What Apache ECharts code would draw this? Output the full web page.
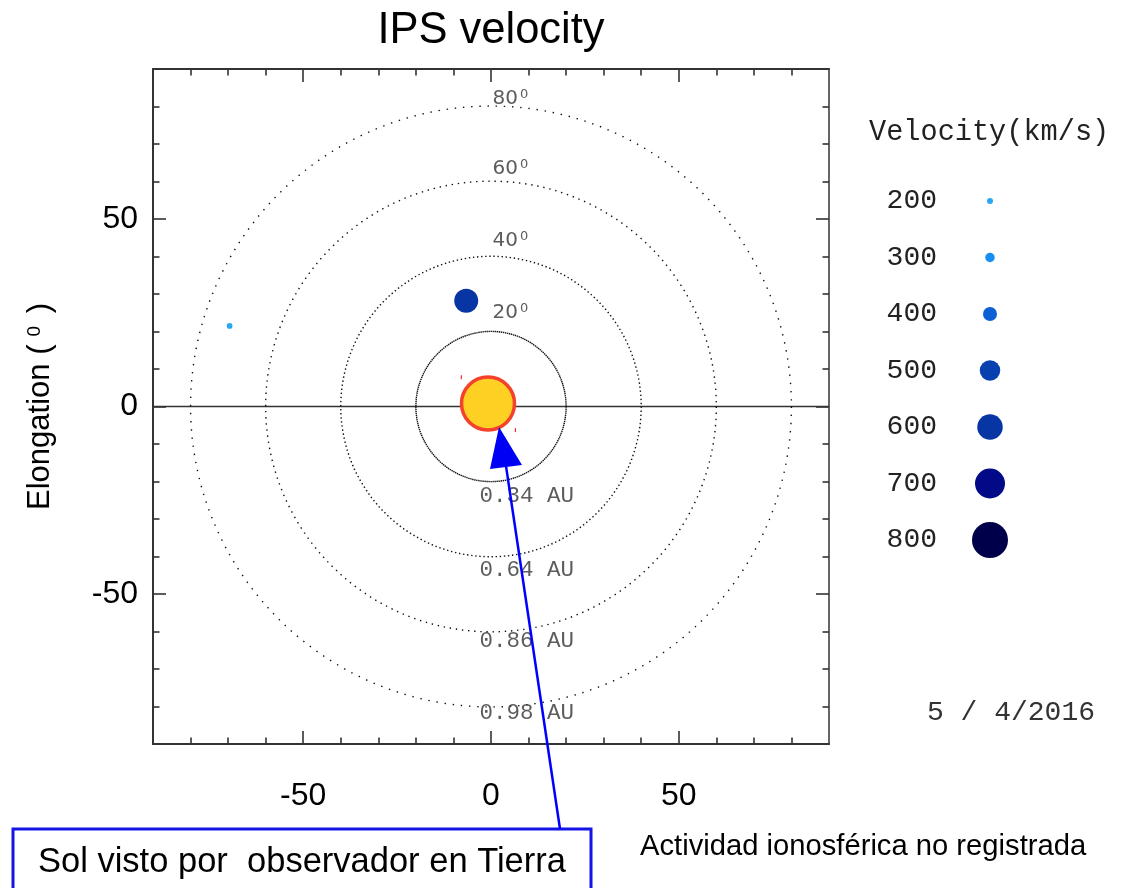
<!DOCTYPE html>
<html><head><meta charset="utf-8">
<script src="https://cdn.jsdelivr.net/npm/echarts@6/dist/echarts.min.js"></script>
<style>html,body{margin:0;padding:0;background:#fff}#c{width:1122px;height:888px}</style>
</head><body><div id="c"></div>
<script>
// ---- data ----
const elongRings = [20, 40, 60, 80];
const ringDegLabels = ['20', '40', '60', '80'];
const ringAuLabels = ['0.34 AU', '0.64 AU', '0.86 AU', '0.98 AU'];
const obsX = [-69.6, -6.6];
const obsY = [21.5, 28.2];
const obsVel = [190, 570];
const legendVel = [200, 300, 400, 500, 600, 700, 800];
const sunPos = [-0.8, 0.8];
const redMarkX = [-7.9, 6.5];
const redMarkY = [7.8, -6.3];
const minorTicks = [-80, -70, -60, -40, -30, -20, -10, 10, 20, 30, 40, 60, 70, 80];
const majorTicks = [-50, 0, 50];
const dateLabel = '5 / 4/2016';

// ---- styles ----
const legendColors = ['#2aa6f7', '#168ef2', '#0a60d4', '#0840b0', '#0736a4', '#020a88', '#00004a'];
const legendSizes = [6, 9.5, 14, 20.5, 25.5, 30, 36];
const degLift = [19, 16, 13, 8];
const auDrop = [15, 14, 9.5, 7];

function velSize(v) {
  if (v <= legendVel[0]) return legendSizes[0] * v / legendVel[0];
  for (let i = 1; i < legendVel.length; i++) {
    if (v <= legendVel[i]) {
      const t = (v - legendVel[i - 1]) / (legendVel[i] - legendVel[i - 1]);
      return legendSizes[i - 1] + t * (legendSizes[i] - legendSizes[i - 1]);
    }
  }
  return legendSizes[legendSizes.length - 1];
}
function velColor(v) {
  let idx = 0;
  for (let i = 0; i < legendVel.length; i++) if (Math.abs(v - legendVel[i]) < Math.abs(v - legendVel[idx])) idx = i;
  return legendColors[idx];
}

const MONO = 'Liberation Mono';
const SANS = 'Liberation Sans';

function xAx(pos, major) {
  return {
    type: 'value', gridIndex: 0, min: -90, max: 90, interval: 10, position: pos,
    axisLine: { show: !major, onZero: false, lineStyle: { color: '#333', width: 2 } },
    axisTick: { show: true, inside: true, length: major ? 13 : 6.5, customValues: major ? majorTicks : minorTicks, lineStyle: { color: '#333', width: 1.6 } },
    axisLabel: (pos === 'bottom' && !major) ? { customValues: majorTicks, margin: 36, fontSize: 32, fontFamily: SANS, color: '#000' } : { show: false },
    splitLine: { show: false }
  };
}
function yAx(pos, major) {
  const a = {
    type: 'value', gridIndex: 0, min: -90, max: 90, interval: 10, position: pos,
    axisLine: { show: !major, onZero: false, lineStyle: { color: pos === 'right' ? '#666' : '#333', width: 2 } },
    axisTick: { show: true, inside: true, length: major ? 13 : 6.5, customValues: major ? majorTicks : minorTicks, lineStyle: { color: '#333', width: 1.6 } },
    axisLabel: (pos === 'left' && !major) ? { customValues: majorTicks, margin: 15, fontSize: 32, fontFamily: SANS, color: '#000' } : { show: false },
    splitLine: { show: false }
  };
  if (pos === 'left' && !major) {
    a.name = '{t|Elongation (}{s|0}{t| )}';
    a.nameLocation = 'middle';
    a.nameRotate = 90;
    a.nameGap = 97;
    a.nameTextStyle = {
      rich: {
        t: { fontSize: 31, fontFamily: SANS, color: '#000' },
        s: { fontSize: 19, fontFamily: SANS, color: '#000', verticalAlign: 'top', padding: [0, 4, 0, 8] }
      }
    };
  }
  return a;
}

const chart = echarts.init(document.getElementById('c'), null, { renderer: 'canvas' });
chart.setOption({
  backgroundColor: '#fff',
  animation: false,
  grid: [
    { left: 153, right: 293, top: 69, bottom: 144, containLabel: false },
    { left: 945, top: 172.75, width: 90, height: 395.5, containLabel: false }
  ],
  xAxis: [
    xAx('bottom', false), xAx('top', false), xAx('bottom', true), xAx('top', true),
    { type: 'value', gridIndex: 1, min: 0, max: 1, show: false }
  ],
  yAxis: [
    yAx('left', false), yAx('right', false), yAx('left', true), yAx('right', true),
    {
      type: 'category', gridIndex: 1, inverse: true, data: legendVel.map(String),
      axisLine: { show: false }, axisTick: { show: false }, splitLine: { show: false },
      axisLabel: { margin: 8, fontSize: 28, fontFamily: MONO, color: '#222' }
    }
  ],
  series: [
    {
      type: 'line', xAxisIndex: 0, yAxisIndex: 0, symbol: 'none', silent: true, z: 1,
      data: [[-90, 0], [90, 0]], lineStyle: { color: '#333', width: 1.3 }
    },
    {
      type: 'custom', xAxisIndex: 0, yAxisIndex: 0, silent: true, z: 2,
      data: elongRings.map(r => [0, 0, r]),
      renderItem: function (params, api) {
        const c = api.coord([0, 0]);
        const r = api.size([api.value(2), 0])[0];
        const n = 230;
        const step = 2 * Math.PI * r / n;
        return {
          type: 'circle', shape: { cx: c[0], cy: c[1], r: r },
          style: { fill: 'none', stroke: '#111', lineWidth: 1.4, lineDash: [1.4, step - 1.4] }
        };
      }
    },
    {
      type: 'scatter', xAxisIndex: 0, yAxisIndex: 0, symbolSize: 1, silent: true, z: 3,
      itemStyle: { color: 'rgba(0,0,0,0)' },
      data: elongRings.map((r, i) => ({
        value: [0, r],
        label: {
          show: true, position: 'right', distance: 1, offset: [0, -degLift[i]],
          formatter: '{d|' + ringDegLabels[i] + '}{s|0}',
          rich: {
            d: { fontSize: 20, fontFamily: 'DejaVu Sans', color: '#333' },
            s: { fontSize: 13, fontFamily: 'DejaVu Sans', color: '#333', verticalAlign: 'top', padding: [0, 0, 0, 2] }
          }
        }
      }))
    },
    {
      type: 'scatter', xAxisIndex: 0, yAxisIndex: 0, symbolSize: 1, silent: true, z: 3,
      itemStyle: { color: 'rgba(0,0,0,0)' },
      data: elongRings.map((r, i) => ({
        value: [0, -r],
        label: {
          show: true, position: 'right', distance: 0, offset: [-12, auDrop[i]],
          formatter: ringAuLabels[i], fontSize: 22.5, fontFamily: MONO, color: '#333'
        }
      }))
    },
    {
      type: 'scatter', xAxisIndex: 0, yAxisIndex: 0, silent: true, z: 4,
      data: [sunPos], symbolSize: 53,
      itemStyle: { color: '#fdd023', borderColor: '#f5402c', borderWidth: 3.5, opacity: 1 }
    },
    {
      type: 'scatter', xAxisIndex: 0, yAxisIndex: 0, silent: true, z: 4,
      symbol: 'rect', symbolSize: [1.2, 4],
      data: redMarkX.map((x, i) => [x, redMarkY[i]]),
      itemStyle: { color: '#f03030', opacity: 1 }
    },
    {
      type: 'scatter', xAxisIndex: 0, yAxisIndex: 0, silent: true, z: 5,
      data: obsX.map((x, i) => [x, obsY[i], obsVel[i]]),
      symbolSize: v => velSize(v[2]),
      itemStyle: { color: p => velColor(p.value[2]), opacity: 1 }
    },
    {
      type: 'scatter', xAxisIndex: 4, yAxisIndex: 4, silent: true, z: 5,
      data: legendVel.map((v, i) => [0.5, i, v]),
      symbolSize: v => velSize(v[2]),
      itemStyle: { color: p => velColor(p.value[2]), opacity: 1 }
    }
  ],
  graphic: [
    { type: 'text', z: 10, style: { text: 'IPS velocity', x: 491, y: 31, align: 'center', verticalAlign: 'middle', fontSize: 43.5, fontFamily: SANS, fill: '#000' } },
    { type: 'text', z: 10, style: { text: 'Velocity(km/s)', x: 869, y: 132, align: 'left', verticalAlign: 'middle', fontSize: 28.6, fontFamily: MONO, fill: '#222' } },
    { type: 'text', z: 10, style: { text: dateLabel, x: 927, y: 713, align: 'left', verticalAlign: 'middle', fontSize: 28, fontFamily: MONO, fill: '#333' } },
    { type: 'text', z: 10, style: { text: 'Actividad ionosférica no registrada', x: 640, y: 847, align: 'left', verticalAlign: 'middle', fontSize: 29.2, fontFamily: SANS, fill: '#000' } },
    { type: 'rect', z: 10, shape: { x: 13, y: 829, width: 578, height: 80 }, style: { fill: '#fff', stroke: '#1414e6', lineWidth: 3 } },
    { type: 'text', z: 11, style: { text: 'Sol visto por  observador en Tierra', x: 38, y: 862, align: 'left', verticalAlign: 'middle', fontSize: 34.5, fontFamily: SANS, fill: '#000' } },
    { type: 'line', z: 12, shape: { x1: 560, y1: 829, x2: 506, y2: 466 }, style: { stroke: '#0000ff', lineWidth: 2.5 } },
    { type: 'polygon', z: 12, shape: { points: [[499, 427], [490, 469], [522, 465]] }, style: { fill: '#0000f5' } }
  ]
});
</script>
</body></html>
